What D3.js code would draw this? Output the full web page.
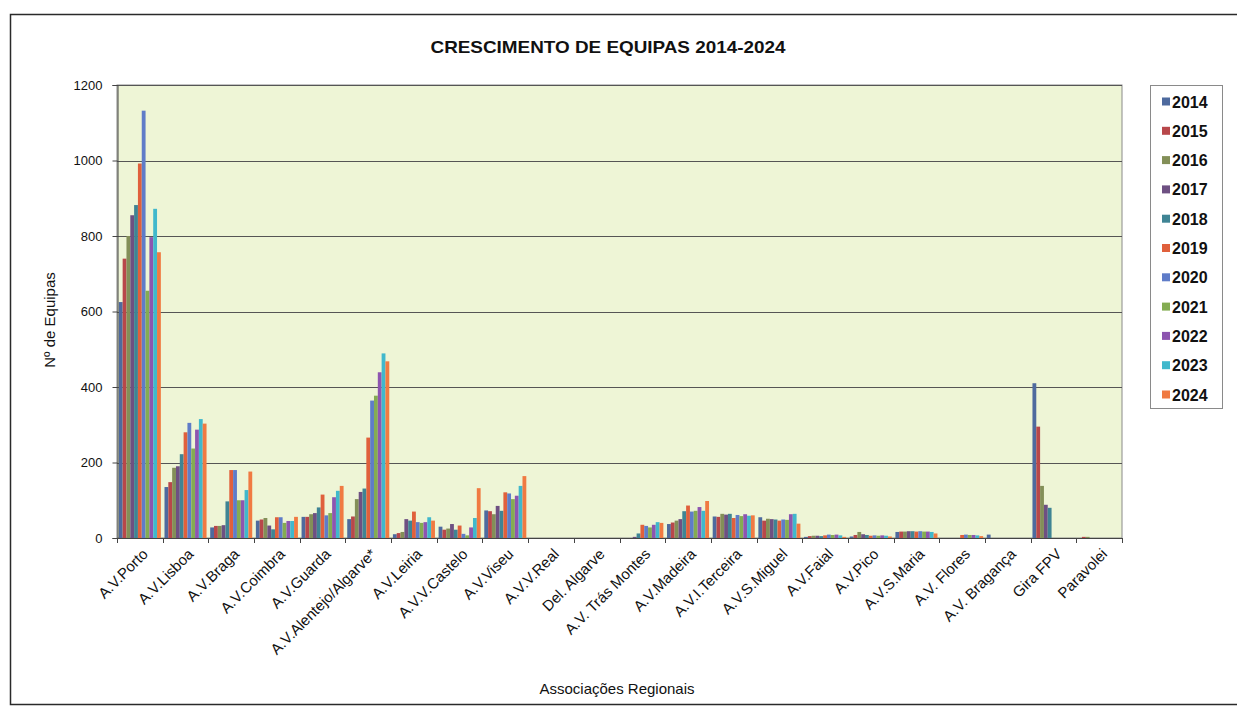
<!DOCTYPE html>
<html>
<head>
<meta charset="utf-8">
<script src="https://cdn.jsdelivr.net/npm/d3@7"></script>
<style>
  html, body { margin: 0; padding: 0; background: #ffffff; }
  svg { display: block; font-family: Arial, "Liberation Sans", sans-serif; }
</style>
</head>
<body>
<svg id="chart" width="1237" height="710"></svg>
<script>
// ---- DATA ----
const categories = ["A.V.Porto","A.V.Lisboa","A.V.Braga","A.V.Coimbra","A.V.Guarda","A.V.Alentejo/Algarve*","A.V.Leiria","A.V.V.Castelo","A.V.Viseu","A.V.V.Real","Del. Algarve","A.V. Trás Montes","A.V.Madeira","A.V.I.Terceira","A.V.S.Miguel","A.V.Faial","A.V.Pico","A.V.S.Maria","A.V. Flores","A.V. Bragança","Gira FPV","Paravolei"];
const years = ["2014","2015","2016","2017","2018","2019","2020","2021","2022","2023","2024"];
const yTicks = [0, 200, 400, 600, 800, 1000, 1200];

const s2014 = [625,135,28,46,56,50,10,30,73,0,0,0,37,57,55,3,4,16,0,9,410,0];
const s2015 = [740,148,32,49,56,57,13,22,71,0,0,0,41,56,46,5,8,17,0,0,295,3];
const s2016 = [800,186,32,53,63,103,16,25,63,0,0,0,46,64,51,6,16,17,0,0,138,3];
const s2017 = [855,190,34,33,66,122,50,37,85,0,0,3,50,62,50,6,10,18,0,0,88,0];
const s2018 = [882,222,97,23,81,131,46,22,72,0,0,12,71,64,49,5,8,18,0,0,80,0];
const s2019 = [992,280,180,55,115,266,70,33,121,0,0,35,86,53,46,7,6,17,8,0,0,0];
const s2020 = [1132,305,180,55,60,364,42,11,118,0,0,32,70,61,49,9,7,18,9,0,0,0];
const s2021 = [655,237,100,40,66,377,40,7,103,0,0,28,72,58,48,8,6,17,8,0,0,0];
const s2022 = [797,287,100,45,108,439,42,28,112,0,0,35,82,63,63,9,7,17,8,0,0,0];
const s2023 = [872,315,127,45,125,489,55,53,138,0,0,42,72,59,64,7,6,16,7,0,0,0];
const s2024 = [757,303,176,56,138,468,46,132,164,0,0,40,98,60,38,3,4,12,5,0,0,0];
const series = [s2014,s2015,s2016,s2017,s2018,s2019,s2020,s2021,s2022,s2023,s2024];

const colors = ["#4E6A9E","#B8474A","#838F58","#6E5082","#3F8494","#E0603C","#5F7CC8","#84AC52","#8D55B0","#40B8CC","#F07A42"];

// ---- LAYOUT ----
const svg = d3.select("#chart");
const plot = { left: 117, right: 1122, top: 85, bottom: 538 };

// outer frame
svg.append("rect").attr("x", 10.5).attr("y", 14.5).attr("width", 1240).attr("height", 690)
  .attr("fill", "#ffffff").attr("stroke", "#2a2a2a").attr("stroke-width", 1.5);

const x0 = d3.scaleBand().domain(categories).range([plot.left, plot.right]).paddingInner(0.08).paddingOuter(0.04);
const x1 = d3.scaleBand().domain(years).range([0, x0.bandwidth()]).padding(0);
const y = d3.scaleLinear().domain([0, 1200]).range([plot.bottom, plot.top]);

// plot background
svg.append("rect").attr("x", plot.left).attr("y", plot.top)
  .attr("width", plot.right - plot.left).attr("height", plot.bottom - plot.top)
  .attr("fill", "#EEF5D6").attr("stroke", "#8a8a8a").attr("stroke-width", 1);

// gridlines
svg.append("g").selectAll("line").data(yTicks.filter(d => d > 0)).join("line")
  .attr("x1", plot.left).attr("x2", plot.right)
  .attr("y1", d => Math.round(y(d)) + 0.5).attr("y2", d => Math.round(y(d)) + 0.5)
  .attr("stroke", "#555").attr("stroke-width", 1);

// bars
const g = svg.append("g");
years.forEach((yr, j) => {
  g.append("g").attr("fill", colors[j]).selectAll("rect")
    .data(categories.map((c, i) => ({ c, v: series[j][i] })))
    .join("rect")
    .attr("x", d => x0(d.c) + x1(yr))
    .attr("width", x1.bandwidth())
    .attr("y", d => y(d.v))
    .attr("height", d => y(0) - y(d.v));
});

// y axis
const yAxis = d3.axisLeft(y).tickValues(yTicks).tickSize(5).tickPadding(10).tickFormat(d3.format("d"));
const ya = svg.append("g").attr("transform", `translate(${plot.left + 0.5},0)`).call(yAxis);
ya.select(".domain").attr("stroke", "#444");
ya.selectAll(".tick line").attr("stroke", "#444");
ya.selectAll("text").attr("font-size", 13).attr("fill", "#111").attr("font-family", "Arial, 'Liberation Sans', sans-serif");

// x axis line + ticks at category boundaries
svg.append("line").attr("x1", plot.left).attr("x2", plot.right)
  .attr("y1", plot.bottom + 0.5).attr("y2", plot.bottom + 0.5).attr("stroke", "#444");
const step = x0.step();
svg.append("g").selectAll("line").data(d3.range(categories.length + 1)).join("line")
  .attr("x1", i => Math.round(plot.left + i * step) + 0.5)
  .attr("x2", i => Math.round(plot.left + i * step) + 0.5)
  .attr("y1", plot.bottom).attr("y2", plot.bottom + 5)
  .attr("stroke", "#444");

// x labels
svg.append("g").selectAll("text").data(categories).join("text")
  .attr("transform", d => `translate(${x0(d) + x0.bandwidth() / 2 + 9},${plot.bottom + 17}) rotate(-45)`)
  .attr("text-anchor", "end")
  .attr("font-size", 15)
  .attr("fill", "#111")
  .text(d => d);

// title
svg.append("text").attr("x", 608).attr("y", 53).attr("text-anchor", "middle")
  .attr("font-size", 17).attr("font-weight", "bold").attr("fill", "#111")
  .attr("textLength", 355).attr("lengthAdjust", "spacingAndGlyphs")
  .text("CRESCIMENTO DE EQUIPAS 2014-2024");

// axis titles
svg.append("text").attr("transform", "translate(55,320) rotate(-90)").attr("text-anchor", "middle")
  .attr("font-size", 15).attr("fill", "#111").text("Nº de Equipas");
svg.append("text").attr("x", 617).attr("y", 694).attr("text-anchor", "middle")
  .attr("font-size", 15).attr("fill", "#111").text("Associações Regionais");

// legend
const lg = svg.append("g");
lg.append("rect").attr("x", 1150.5).attr("y", 85.5).attr("width", 72).attr("height", 323)
  .attr("fill", "#fff").attr("stroke", "#8a8a8a");
const items = lg.selectAll("g.item").data(years).join("g")
  .attr("transform", (d, i) => `translate(1162,${101.5 + i * 29.3})`);
items.append("rect").attr("x", 0).attr("y", -4).attr("width", 8).attr("height", 8)
  .attr("fill", (d, i) => colors[i]);
items.append("text").attr("x", 10).attr("y", 6).attr("font-size", 16).attr("font-weight", "bold")
  .attr("fill", "#111").text(d => d);
</script>
</body>
</html>
